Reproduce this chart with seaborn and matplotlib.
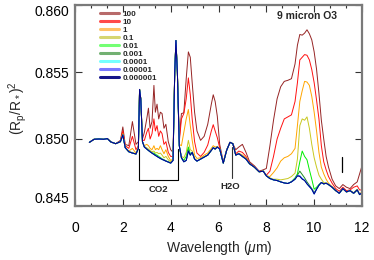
import numpy as np
import pandas as pd
import matplotlib
matplotlib.use("Agg")
import matplotlib.pyplot as plt
from matplotlib.lines import Line2D
from matplotlib.ticker import MultipleLocator, FixedLocator, FormatStrFormatter
import seaborn as sns

# ---------------- data ----------------
wavelength = [
    0.6, 0.8, 1.0, 1.2, 1.35, 1.5, 1.7, 1.9, 2.0, 2.1,
    2.25, 2.4, 2.55, 2.65, 2.7, 2.75, 2.82, 2.9, 3.0, 3.07,
    3.14, 3.22, 3.3, 3.36, 3.43, 3.5, 3.57, 3.64, 3.72, 3.8,
    3.9, 4.0, 4.1, 4.17, 4.22, 4.28, 4.36, 4.45, 4.55, 4.65,
    4.74, 4.82, 4.9, 5.0, 5.1, 5.25, 5.4, 5.55, 5.7, 5.78,
    5.86, 5.95, 6.05, 6.2, 6.34, 6.48, 6.6, 6.72, 6.85, 7.0,
    7.15, 7.3, 7.5, 7.7, 7.87, 8.0, 8.15, 8.3, 8.45, 8.6,
    8.75, 8.9, 9.05, 9.2, 9.3, 9.4, 9.5, 9.6, 9.7, 9.8,
    9.9, 10.0, 10.1, 10.2, 10.3, 10.4, 10.5, 10.6, 10.75, 10.9,
    11.05, 11.2, 11.35, 11.5, 11.65, 11.8, 11.9, 12.0]

s_100 = [
    0.84975, 0.84998, 0.85000, 0.84998, 0.85003, 0.84978, 0.84965, 0.84990, 0.85090, 0.84960,
    0.84950, 0.85130, 0.84960, 0.84980, 0.85370, 0.85300, 0.85000, 0.85050, 0.85150, 0.85230,
    0.85080, 0.85130, 0.85400, 0.85200, 0.85260, 0.85150, 0.85200, 0.85190, 0.85080, 0.85110,
    0.84980, 0.84920, 0.84900, 0.85500, 0.85735, 0.85500, 0.85000, 0.85190, 0.85195, 0.85450,
    0.85650, 0.85610, 0.85420, 0.85200, 0.85060, 0.84990, 0.85020, 0.85110, 0.85260, 0.85330,
    0.85280, 0.85170, 0.84960, 0.84830, 0.84920, 0.84975, 0.84965, 0.84920, 0.84940, 0.84960,
    0.84900, 0.84830, 0.84800, 0.84760, 0.84770, 0.84780, 0.84950, 0.85140, 0.85300, 0.85390,
    0.85430, 0.85438, 0.85450, 0.85560, 0.85700, 0.85780, 0.85775, 0.85790, 0.85815, 0.85785,
    0.85740, 0.85650, 0.85520, 0.85340, 0.85140, 0.85000, 0.84870, 0.84790, 0.84700, 0.84650,
    0.84630, 0.84660, 0.84640, 0.84630, 0.84660, 0.84680, 0.84740, 0.84800]

s_10 = [
    0.84975, 0.84998, 0.85000, 0.84998, 0.85003, 0.84978, 0.84965, 0.84985, 0.85060, 0.84950,
    0.84930, 0.85020, 0.84920, 0.84950, 0.85370, 0.85300, 0.84990, 0.84990, 0.85050, 0.85080,
    0.85000, 0.85040, 0.85150, 0.85060, 0.85100, 0.85020, 0.85060, 0.85040, 0.84960, 0.84980,
    0.84900, 0.84870, 0.84870, 0.85500, 0.85735, 0.85500, 0.84980, 0.85150, 0.85190, 0.85300,
    0.85456, 0.85330, 0.85150, 0.84980, 0.84895, 0.84870, 0.84900, 0.84955, 0.85060, 0.85107,
    0.85060, 0.85010, 0.84935, 0.84825, 0.84915, 0.84975, 0.84965, 0.84890, 0.84910, 0.84900,
    0.84870, 0.84820, 0.84795, 0.84757, 0.84762, 0.84730, 0.84760, 0.84870, 0.85000, 0.85080,
    0.85150, 0.85165, 0.85180, 0.85280, 0.85420, 0.85590, 0.85610, 0.85630, 0.85625, 0.85590,
    0.85518, 0.85420, 0.85290, 0.85150, 0.84950, 0.84830, 0.84770, 0.84720, 0.84670, 0.84630,
    0.84610, 0.84640, 0.84615, 0.84620, 0.84640, 0.84650, 0.84620, 0.84620]

s_1 = [
    0.84975, 0.84998, 0.85000, 0.84998, 0.85003, 0.84978, 0.84965, 0.84980, 0.85040, 0.84940,
    0.84910, 0.84930, 0.84895, 0.84935, 0.85370, 0.85300, 0.84980, 0.84950, 0.84960, 0.84950,
    0.84930, 0.84920, 0.84950, 0.84920, 0.84930, 0.84920, 0.84950, 0.84920, 0.84890, 0.84920,
    0.84870, 0.84840, 0.84850, 0.85500, 0.85735, 0.85500, 0.84960, 0.84950, 0.85050, 0.85150,
    0.85220, 0.85100, 0.84990, 0.84880, 0.84855, 0.84860, 0.84880, 0.84895, 0.84930, 0.84950,
    0.84940, 0.84945, 0.84928, 0.84820, 0.84915, 0.84975, 0.84965, 0.84880, 0.84895, 0.84880,
    0.84860, 0.84815, 0.84790, 0.84755, 0.84760, 0.84725, 0.84720, 0.84750, 0.84785, 0.84835,
    0.84860, 0.84870, 0.84890, 0.84930, 0.85100, 0.85280, 0.85360, 0.85430, 0.85425, 0.85400,
    0.85318, 0.85200, 0.85060, 0.84900, 0.84790, 0.84740, 0.84700, 0.84670, 0.84645, 0.84615,
    0.84595, 0.84630, 0.84605, 0.84615, 0.84600, 0.84625, 0.84590, 0.84605]

s_01 = [
    0.84975, 0.84998, 0.85000, 0.84998, 0.85003, 0.84978, 0.84965, 0.84980, 0.85030, 0.84935,
    0.84905, 0.84900, 0.84890, 0.84930, 0.85370, 0.85300, 0.84980, 0.84945, 0.84935, 0.84925,
    0.84915, 0.84905, 0.84910, 0.84895, 0.84900, 0.84890, 0.84895, 0.84880, 0.84860, 0.84870,
    0.84845, 0.84830, 0.84845, 0.85500, 0.85735, 0.85500, 0.84950, 0.84870, 0.84860, 0.84900,
    0.84990, 0.84920, 0.84910, 0.84855, 0.84838, 0.84852, 0.84867, 0.84882, 0.84917, 0.84937,
    0.84925, 0.84940, 0.84925, 0.84820, 0.84915, 0.84975, 0.84965, 0.84880, 0.84890, 0.84870,
    0.84850, 0.84815, 0.84790, 0.84755, 0.84760, 0.84725, 0.84710, 0.84700, 0.84700, 0.84695,
    0.84700, 0.84705, 0.84720, 0.84745, 0.84850, 0.85100, 0.85150, 0.85140, 0.85165, 0.85080,
    0.84960, 0.84860, 0.84790, 0.84730, 0.84700, 0.84675, 0.84672, 0.84660, 0.84640, 0.84615,
    0.84595, 0.84630, 0.84605, 0.84615, 0.84595, 0.84620, 0.84585, 0.84600]

s_001 = [
    0.84975, 0.84998, 0.85000, 0.84998, 0.85003, 0.84978, 0.84965, 0.84980, 0.85030, 0.84935,
    0.84905, 0.84895, 0.84888, 0.84930, 0.85370, 0.85300, 0.84980, 0.84940, 0.84925, 0.84915,
    0.84905, 0.84895, 0.84895, 0.84885, 0.84880, 0.84870, 0.84862, 0.84852, 0.84845, 0.84838,
    0.84830, 0.84822, 0.84842, 0.85500, 0.85735, 0.85500, 0.84950, 0.84860, 0.84840, 0.84870,
    0.84940, 0.84890, 0.84900, 0.84850, 0.84835, 0.84850, 0.84865, 0.84880, 0.84915, 0.84935,
    0.84925, 0.84940, 0.84925, 0.84820, 0.84915, 0.84975, 0.84965, 0.84880, 0.84890, 0.84870,
    0.84850, 0.84815, 0.84790, 0.84755, 0.84760, 0.84725, 0.84705, 0.84695, 0.84690, 0.84680,
    0.84672, 0.84668, 0.84682, 0.84710, 0.84740, 0.84830, 0.84910, 0.84870, 0.84845, 0.84770,
    0.84700, 0.84625, 0.84640, 0.84660, 0.84675, 0.84665, 0.84670, 0.84660, 0.84640, 0.84615,
    0.84595, 0.84630, 0.84605, 0.84615, 0.84595, 0.84620, 0.84585, 0.84600]

s_0001 = [
    0.84975, 0.84998, 0.85000, 0.84998, 0.85003, 0.84978, 0.84965, 0.84980, 0.85030, 0.84935,
    0.84905, 0.84895, 0.84888, 0.84930, 0.85370, 0.85300, 0.84980, 0.84940, 0.84925, 0.84915,
    0.84905, 0.84895, 0.84885, 0.84878, 0.84870, 0.84862, 0.84855, 0.84848, 0.84842, 0.84835,
    0.84828, 0.84820, 0.84840, 0.85500, 0.85735, 0.85500, 0.84950, 0.84860, 0.84830, 0.84840,
    0.84920, 0.84880, 0.84900, 0.84850, 0.84835, 0.84850, 0.84865, 0.84880, 0.84915, 0.84935,
    0.84925, 0.84940, 0.84925, 0.84820, 0.84915, 0.84975, 0.84965, 0.84880, 0.84890, 0.84870,
    0.84850, 0.84815, 0.84790, 0.84755, 0.84760, 0.84725, 0.84705, 0.84695, 0.84690, 0.84680,
    0.84672, 0.84668, 0.84680, 0.84702, 0.84730, 0.84760, 0.84735, 0.84710, 0.84680, 0.84655,
    0.84630, 0.84600, 0.84628, 0.84655, 0.84675, 0.84665, 0.84670, 0.84660, 0.84640, 0.84615,
    0.84595, 0.84630, 0.84605, 0.84615, 0.84595, 0.84620, 0.84585, 0.84600]

s_00001 = [
    0.84975, 0.84998, 0.85000, 0.84998, 0.85003, 0.84978, 0.84965, 0.84980, 0.85030, 0.84935,
    0.84905, 0.84895, 0.84888, 0.84930, 0.85370, 0.85300, 0.84980, 0.84940, 0.84925, 0.84915,
    0.84905, 0.84895, 0.84885, 0.84878, 0.84870, 0.84862, 0.84855, 0.84848, 0.84842, 0.84835,
    0.84828, 0.84820, 0.84840, 0.85500, 0.85735, 0.85500, 0.84950, 0.84860, 0.84830, 0.84840,
    0.84910, 0.84880, 0.84900, 0.84850, 0.84835, 0.84850, 0.84865, 0.84880, 0.84915, 0.84935,
    0.84925, 0.84940, 0.84925, 0.84820, 0.84915, 0.84975, 0.84965, 0.84880, 0.84890, 0.84870,
    0.84850, 0.84815, 0.84790, 0.84755, 0.84760, 0.84725, 0.84705, 0.84695, 0.84690, 0.84680,
    0.84672, 0.84668, 0.84680, 0.84700, 0.84727, 0.84725, 0.84705, 0.84692, 0.84666, 0.84645,
    0.84625, 0.84590, 0.84625, 0.84655, 0.84675, 0.84665, 0.84670, 0.84660, 0.84640, 0.84615,
    0.84595, 0.84630, 0.84605, 0.84615, 0.84595, 0.84620, 0.84585, 0.84600]

s_000001 = [
    0.84975, 0.84998, 0.85000, 0.84998, 0.85003, 0.84978, 0.84965, 0.84980, 0.85030, 0.84935,
    0.84905, 0.84895, 0.84888, 0.84930, 0.85370, 0.85300, 0.84980, 0.84940, 0.84925, 0.84915,
    0.84905, 0.84895, 0.84885, 0.84878, 0.84870, 0.84862, 0.84855, 0.84848, 0.84842, 0.84835,
    0.84828, 0.84820, 0.84840, 0.85500, 0.85735, 0.85500, 0.84950, 0.84860, 0.84830, 0.84840,
    0.84910, 0.84880, 0.84900, 0.84850, 0.84835, 0.84850, 0.84865, 0.84880, 0.84915, 0.84935,
    0.84925, 0.84940, 0.84925, 0.84820, 0.84915, 0.84975, 0.84965, 0.84880, 0.84890, 0.84870,
    0.84850, 0.84815, 0.84790, 0.84755, 0.84760, 0.84725, 0.84705, 0.84695, 0.84690, 0.84680,
    0.84672, 0.84668, 0.84680, 0.84700, 0.84725, 0.84720, 0.84700, 0.84690, 0.84665, 0.84645,
    0.84625, 0.84590, 0.84625, 0.84655, 0.84675, 0.84665, 0.84670, 0.84660, 0.84640, 0.84615,
    0.84595, 0.84630, 0.84605, 0.84615, 0.84595, 0.84620, 0.84585, 0.84600]

series_labels = ["100", "10", "1", "0.1", "0.01", "0.001", "0.0001", "0.00001", "0.000001"]
line_colors = ["#962424", "#ff1010", "#ffa500", "#c8c820", "#00ee00",
               "#228b22", "#00ffff", "#4848ff", "#000080"]
legend_colors = ["#b86a6a", "#ff4a4a", "#ffc266", "#d6d670", "#74ff74",
                 "#72b072", "#74ffff", "#7878ff", "#14148a"]

# ---------------- style ----------------
sns.set_style("ticks")
plt.rcParams["font.family"] = ["Liberation Sans", "DejaVu Sans"]
plt.rcParams["mathtext.fontset"] = "custom"
plt.rcParams["mathtext.rm"] = "Liberation Sans"
plt.rcParams["mathtext.it"] = "Liberation Sans:italic"
plt.rcParams["mathtext.bf"] = "Liberation Sans:bold"

W, H = 374, 260
fig = plt.figure(figsize=(W / 100, H / 100), dpi=100)
ax = fig.add_axes([75 / W, 1 - 206 / H, 287 / W, 201 / H])

# nine series, drawn from highest abundance to the baseline (0.000001)
data_cols = {"100": s_100, "10": s_10, "1": s_1, "0.1": s_01, "0.01": s_001,
             "0.001": s_0001, "0.0001": s_00001, "0.00001": s_00001,
             "0.000001": s_000001}

for lab, col in zip(series_labels, line_colors):
    df = pd.DataFrame({"wl": wavelength, "val": data_cols[lab]})
    sns.lineplot(data=df, x="wl", y="val", color=col, linewidth=0.7,
                 ax=ax, legend=False, errorbar=None)

ax.set_xlim(0, 12)
ax.set_ylim(0.845, 0.860)
ax.set_xlabel("")
ax.set_ylabel("")

ax.xaxis.set_major_locator(MultipleLocator(2))
ax.xaxis.set_minor_locator(MultipleLocator(2 / 3))
ax.yaxis.set_major_locator(FixedLocator([0.845, 0.850, 0.855, 0.860]))
ax.yaxis.set_major_formatter(FormatStrFormatter("%.3f"))
ax.tick_params(which="both", direction="in", top=True, right=True,
               colors="#333333", labelcolor="black", labelsize=10)
ax.tick_params(which="major", length=5, width=0.8)
ax.tick_params(which="minor", length=2.5, width=0.8)
ax.tick_params(axis="x", pad=11)
ax.tick_params(axis="y", pad=4)
for sp in ax.spines.values():
    sp.set_color("#7a7a7a")
    sp.set_linewidth(1.6)

fig.canvas.draw()
ylabels = ax.get_yticklabels()
ylabels[-1].set_verticalalignment("top")
ylabels[0].set_verticalalignment("bottom")

fig.text(219 / W, 1 - 248 / H, r"Wavelength ($\mu$m)", ha="center", va="center", fontsize=10)
fig.text(18 / W, 1 - 108 / H, r"$(\mathrm{R_p/R_*})^2$", ha="center", va="center",
         rotation=90, fontsize=10)

# annotations
ax.text(9.72, 0.8592, "9 micron O3", ha="center", va="center", fontsize=7.5, fontweight="bold")
ax.text(3.5, 0.84625, "CO2", ha="center", va="center", fontsize=6.8, fontweight="bold")
ax.text(6.48, 0.84645, "H2O", ha="center", va="center", fontsize=6.8, fontweight="bold")
ax.plot([2.69, 2.69, 4.32, 4.32], [0.84923, 0.84692, 0.84692, 0.84923], color="black", lw=0.8)
ax.plot([6.55, 6.55], [0.84940, 0.84712], color="#333333", lw=0.8)
ax.plot([11.18, 11.18], [0.84866, 0.84757], color="black", lw=0.9)

handles = [Line2D([0], [0], color=c, lw=2.2) for c in legend_colors]
leg = ax.legend(handles, series_labels, loc="upper left",
                bbox_to_anchor=((100 - 75) / 287, 1 - (10 - 5) / 201),
                frameon=False, fontsize=5.8, handlelength=2.3, handletextpad=0.45,
                labelspacing=0.05, borderpad=0, borderaxespad=0)
for t in leg.get_texts():
    t.set_fontweight("bold")

fig.savefig("out.png", dpi=100)
